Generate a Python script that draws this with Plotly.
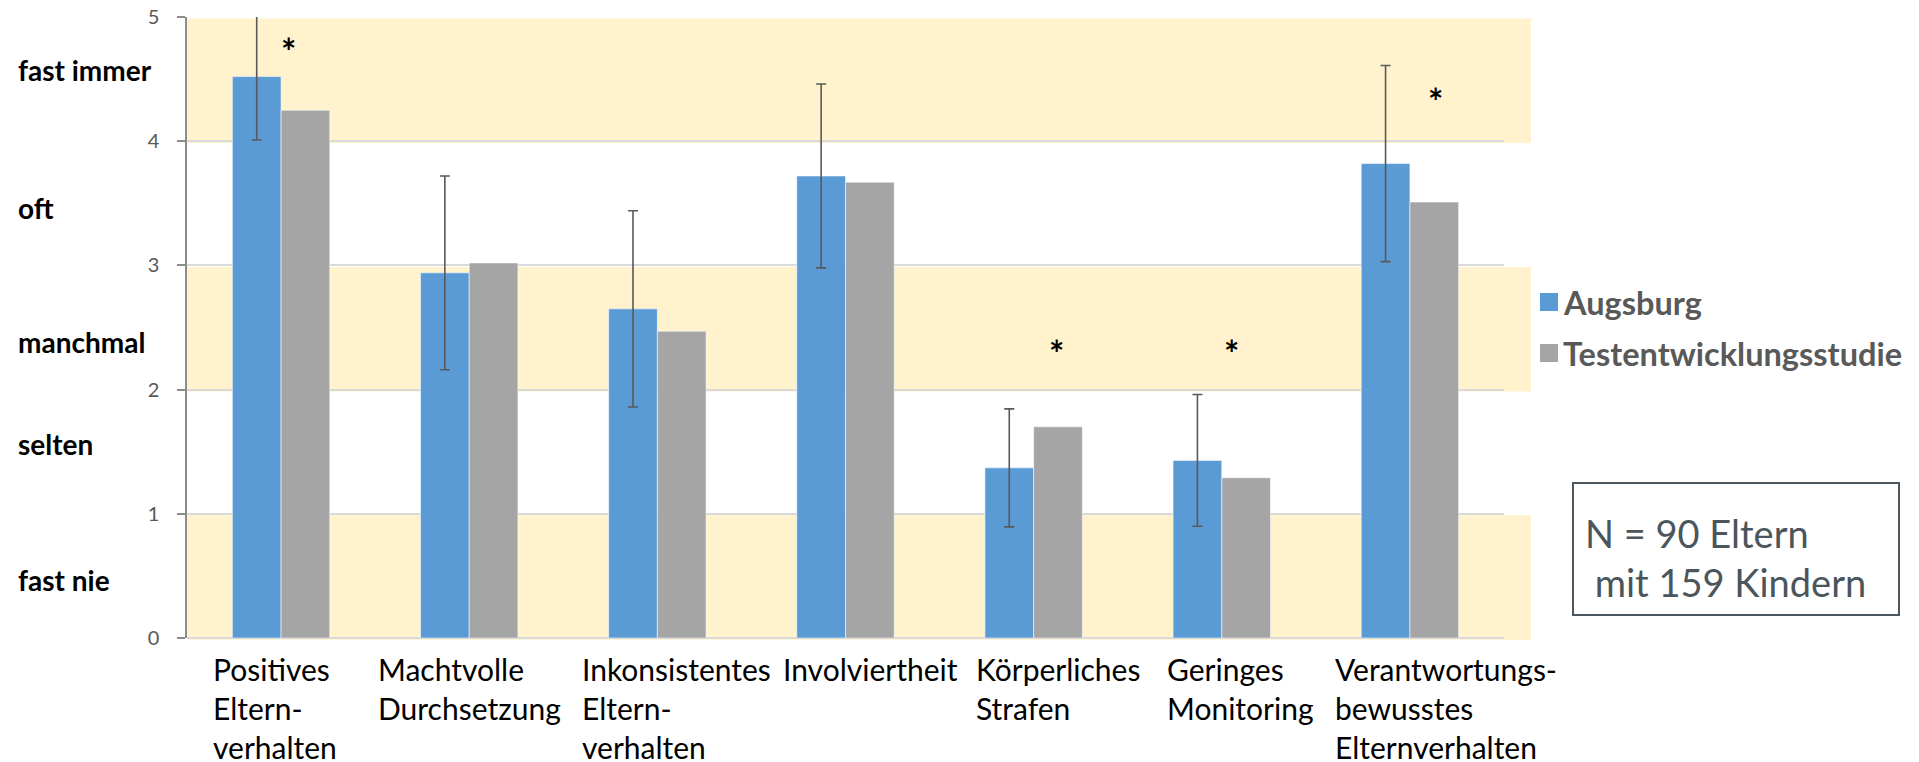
import plotly.graph_objects as go

# --- data -------------------------------------------------------------
categories = [
    "Positives<br>Eltern-<br>verhalten",
    "Machtvolle<br>Durchsetzung",
    "Inkonsistentes<br>Eltern-<br>verhalten",
    "Involviertheit",
    "Körperliches<br>Strafen",
    "Geringes<br>Monitoring",
    "Verantwortungs-<br>bewusstes<br>Elternverhalten",
]
series_names = ["Augsburg", "Testentwicklungsstudie"]
augsburg = [4.52, 2.94, 2.65, 3.72, 1.37, 1.43, 3.82]
augsburg_sd = [0.51, 0.78, 0.79, 0.74, 0.475, 0.53, 0.79]
testentwicklung = [4.25, 3.02, 2.47, 3.67, 1.70, 1.29, 3.51]
significant = [True, False, False, False, True, True, True]
y_ticks = [0, 1, 2, 3, 4, 5]
level_labels = ["fast nie", "selten", "manchmal", "oft", "fast immer"]
sample_note = "N = 90 Eltern<br>\u00a0mit 159 Kindern"

# --- layout geometry (pixels) ------------------------------------------
W, H = 1919, 762
L, R, T, B = 187, 415, 17, 124
PW, PH = W - L - R, H - T - B

def px_x(px):
    return (px - L) / PW

def px_y(py):
    return (H - B - py) / PH

BLUE = "#5B9BD5"
GRAY = "#A5A5A5"
BAND = "#FFF2CC"
TEXT_GRAY = "#595959"

fig = go.Figure()
fig.add_trace(go.Bar(
    x=categories, y=augsburg, name=series_names[0],
    marker=dict(color=BLUE, line=dict(color="rgba(255,255,255,0.55)", width=1)),
    error_y=dict(type="data", array=augsburg_sd, symmetric=True,
                 color="#595959", thickness=1.6, width=5),
    showlegend=False,
))
fig.add_trace(go.Bar(
    x=categories, y=testentwicklung, name=series_names[1],
    marker=dict(color=GRAY, line=dict(color="rgba(255,255,255,0.55)", width=1)),
    showlegend=False,
))

shapes = []
# alternating answer-scale bands
for lo in (0, 2, 4):
    shapes.append(dict(type="rect", xref="paper", yref="paper",
                       x0=0, x1=px_x(1531), y0=(lo - 0.015) / 5, y1=(lo + 1 - 0.012) / 5,
                       fillcolor=BAND, line=dict(width=0), layer="below"))

annotations = []
# answer-scale labels left of the axis
level_pos = [0.47, 1.56, 2.38, 3.46, 4.57]
for txt, yv in zip(level_labels, level_pos):
    annotations.append(dict(text=txt, xref="paper", yref="y", x=px_x(16), y=yv,
                            xanchor="left", yanchor="middle", showarrow=False,
                            font=dict(family="Lato", size=28, color="#000000", weight="bold")))

# category labels, left-aligned lines below the bars
label_shift = [-70, -93, -77, -65, -60, -57, -77]
for cat, dx in zip(categories, label_shift):
    annotations.append(dict(text=cat, xref="x", yref="y", x=cat, y=0,
                            xanchor="left", yanchor="top", align="left",
                            xshift=dx, yshift=-11, showarrow=False,
                            font=dict(family="Lato", size=30, color="#000000")))

# significance markers
star_pos = {0: (0.04, 4.79), 4: (0.12, 2.36), 5: (0.05, 2.36), 6: (0.135, 4.39)}
for i, sig in enumerate(significant):
    if sig:
        dx, yv = star_pos[i]
        annotations.append(dict(text="*", xref="x", yref="y", x=i + dx, y=yv,
                                xanchor="center", yanchor="middle", yshift=-8,
                                showarrow=False,
                                font=dict(family="Lato", size=36, color="#000000", weight="bold")))

# legend
legend_rows = [(series_names[0], BLUE, 302), (series_names[1], GRAY, 353)]
for name, col, cy in legend_rows:
    shapes.append(dict(type="rect", xref="paper", yref="paper",
                       x0=px_x(1540), x1=px_x(1558), y0=px_y(cy + 9), y1=px_y(cy - 9),
                       fillcolor=col, line=dict(width=0)))
    annotations.append(dict(text=name, xref="paper", yref="paper",
                            x=px_x(1561), y=px_y(cy), xanchor="left", yanchor="middle",
                            showarrow=False,
                            font=dict(family="Lato", size=32.5, color=TEXT_GRAY, weight="bold")))

# sample size box
shapes.append(dict(type="rect", xref="paper", yref="paper",
                   x0=px_x(1573), x1=px_x(1899), y0=px_y(615), y1=px_y(483),
                   line=dict(color="#4B5860", width=2), fillcolor="rgba(0,0,0,0)"))
annotations.append(dict(text=sample_note, xref="paper", yref="paper",
                        x=px_x(1583), y=px_y(557), xanchor="left", yanchor="middle",
                        align="left", showarrow=False,
                        font=dict(family="Lato", size=38, color="#4A555C")))

fig.update_layout(
    width=W, height=H,
    margin=dict(l=L, r=R, t=T, b=B, pad=0, autoexpand=False),
    paper_bgcolor="white", plot_bgcolor="rgba(0,0,0,0)",
    barmode="group", bargap=0.482, bargroupgap=0,
    font=dict(family="Lato"),
    shapes=shapes, annotations=annotations,
    xaxis=dict(type="category", range=[-0.5, len(categories) - 0.5], autorange=False,
               automargin=False, showticklabels=False, showgrid=False,
               zeroline=False, showline=False, ticks=""),
    yaxis=dict(range=[0, 5], autorange=False, automargin=False, tickvals=y_ticks,
               showgrid=True, gridcolor="#D9D9D9",
               gridwidth=1.5, zeroline=True, zerolinecolor="#D9D9D9", zerolinewidth=1.5,
               showline=True, linecolor="#8C8C8C", linewidth=1.5,
               ticks="outside", ticklen=8, tickcolor="#8C8C8C", tickwidth=1.5,
               ticklabelstandoff=14,
               tickfont=dict(family="Lato", size=20, color=TEXT_GRAY)),
)

fig.write_html("out.html")
